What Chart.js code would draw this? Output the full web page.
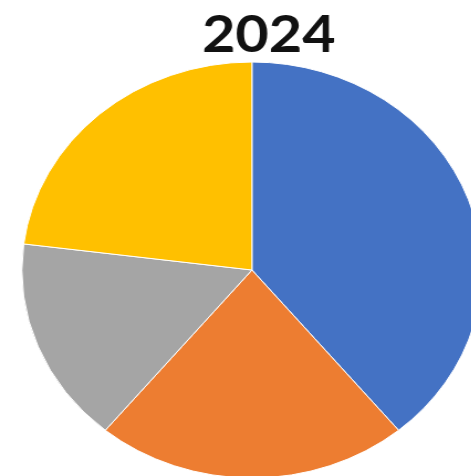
<!DOCTYPE html>
<html>
<head>
<meta charset="utf-8">
<script src="https://cdn.jsdelivr.net/npm/chart.js@4/dist/chart.umd.min.js"></script>
<style>
    html, body {
        margin: 0;
        width: 471px;
        height: 476px;
        overflow: hidden;
        background: #ffffff;
    }
    /* the source picture is stretched sideways, so the canvas is too */
    #wrap {
        position: absolute;
        left: 0;
        top: 0;
        transform: scaleX(1.106);
        transform-origin: 0 0;
    }
</style>
</head>
<body>
<div id="wrap">
    <canvas id="grafica" width="450" height="490"></canvas>
</div>
<script>
// Datos de la grafica
const chartTitle = "2024";
const categories = ["Category 1", "Category 2", "Category 3", "Category 4"];
const values = [39, 22, 16, 23];
const sliceColors = ["#4472c4", "#ed7d31", "#a5a5a5", "#ffc000"];

// Titulo dibujado a mano (va un poco a la derecha del centro del pastel)
const titlePlugin = {
    id: "titlePlugin",
    afterDraw(chart) {
        const ctx = chart.ctx;
        ctx.save();
        ctx.textAlign = "center";
        ctx.textBaseline = "alphabetic";
        ctx.fillStyle = "#111111";
        ctx.font = "700 52px Lato";
        ctx.fillText(chartTitle, 243, 52);
        ctx.restore();
    }
};

new Chart(document.getElementById("grafica"), {
    type: "pie",
    data: {
        labels: categories,
        datasets: [{
            data: values,
            backgroundColor: sliceColors,
            borderColor: "#ffffff",
            borderWidth: 1,
            hoverOffset: 0
        }]
    },
    options: {
        responsive: false,
        animation: false,
        devicePixelRatio: 1,
        layout: {
            padding: { left: 19.3, right: 13.7, top: 61.5, bottom: 11.5 }
        },
        plugins: {
            legend: { display: false },
            tooltip: { enabled: false }
        }
    },
    plugins: [titlePlugin]
});
</script>
</body>
</html>
